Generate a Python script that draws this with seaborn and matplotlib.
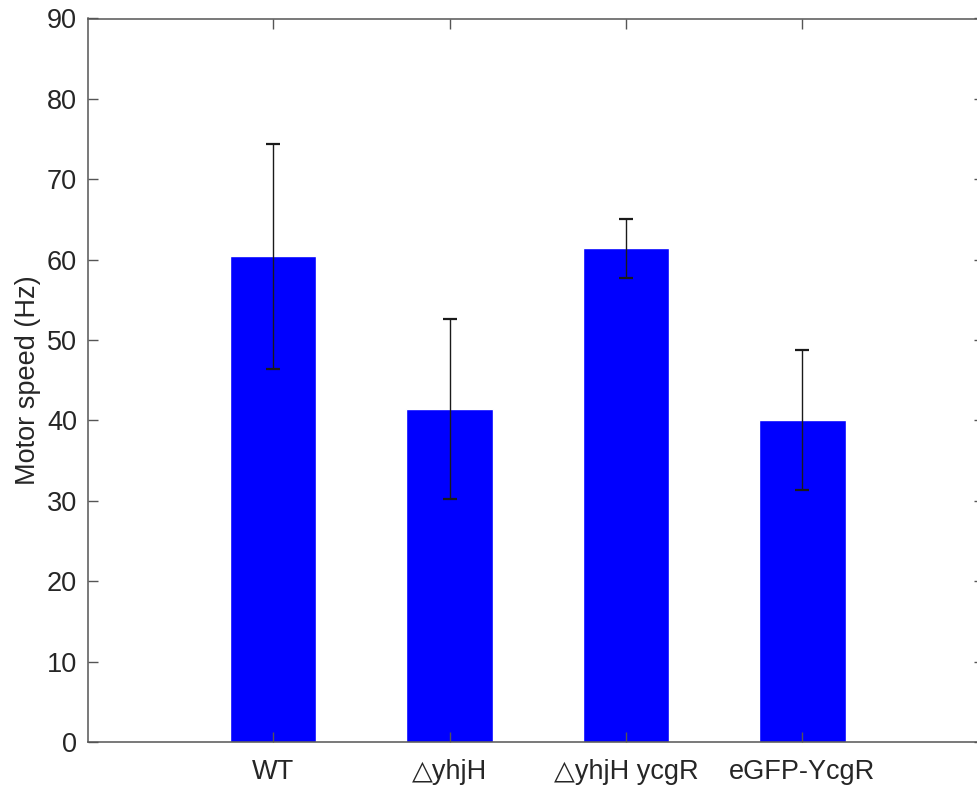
import matplotlib
matplotlib.use("Agg")
import matplotlib.pyplot as plt
import pandas as pd
import seaborn as sns

strains = ["WT", "\u25b3yhjH", "\u25b3yhjH ycgR", "eGFP-YcgR"]
speed = [60.4, 41.4, 61.4, 40.1]
speed_err = [14.0, 11.2, 3.7, 8.7]

sns.set_style("white")
plt.rcParams["font.family"] = ["Liberation Sans", "DejaVu Sans"]

df = pd.DataFrame({"strain": strains, "speed": speed})

fig = plt.figure(figsize=(9.77, 7.88), dpi=100)
# axes box runs slightly past the right edge, like the cropped original
ax = fig.add_axes([88 / 977, 1 - 742 / 788, 896 / 977, (742 - 18.5) / 788])

sns.barplot(data=df, x="strain", y="speed", order=strains, color="#0000ff",
            saturation=1, width=0.49, errorbar=None, ax=ax)
ax.errorbar(range(len(strains)), speed, yerr=speed_err, fmt="none",
            ecolor="#1a1a1a", elinewidth=1.0, capsize=5, capthick=1.6, zorder=3)

ax.set_xlim(-1.05, 4.03)
ax.set_ylim(0, 90)
ax.set_yticks(range(0, 91, 10))
ax.set_xlabel("")
ax.set_ylabel("Motor speed (Hz)", fontsize=19.5, color="#262626")
ax.yaxis.set_label_coords(-0.053, 0.5)
ax.set_axisbelow(False)  # ticks drawn over the bars, matlab-style

axis_col = "#555555"
for s in ax.spines.values():
    s.set_visible(True)
    s.set_color(axis_col)
    s.set_linewidth(1.1)
ax.tick_params(axis="both", direction="in", length=7, width=1.0, color=axis_col,
               labelsize=19.5, labelcolor="#262626",
               left=True, bottom=True, top=True, right=True)
ax.tick_params(axis="x", pad=12)
ax.tick_params(axis="y", pad=8)

fig.savefig("out.png", dpi=100)
